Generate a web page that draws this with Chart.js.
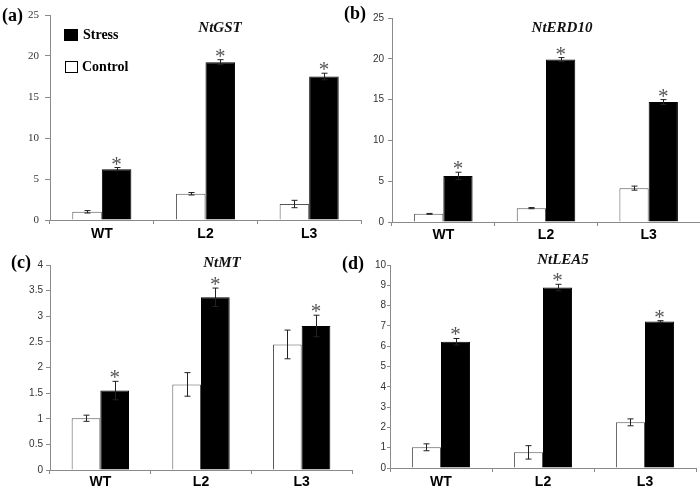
<!DOCTYPE html>
<html lang="en">
<head>
  <meta charset="UTF-8" />
  <title>Stress gene expression</title>
  <script src="https://cdn.jsdelivr.net/npm/chart.js"></script>
  <style>
    body { margin: 0; background: #fff; }
    #wrap { position: relative; width: 700px; height: 489px; overflow: hidden; }
    canvas { position: absolute; }
    .lbl { position: absolute; font-family: "Liberation Serif", serif; font-weight: bold; line-height: 1; white-space: nowrap; color: #000; }
    .panel { font-size: 18px; transform: translateY(-50%); }
    .gene { font-size: 15px; font-style: italic; transform: translate(-50%, -50%); color: #111; }
    .leg { font-size: 14px; }
    .box { position: absolute; box-sizing: border-box; border: 1px solid #000; }
  </style>
</head>
<body>
  <div id="wrap">
    <canvas id="chartA" width="362" height="245" style="left:0;top:0"></canvas>
    <canvas id="chartB" width="350" height="245" style="left:350px;top:0"></canvas>
    <canvas id="chartC" width="353" height="244" style="left:0;top:245px"></canvas>
    <canvas id="chartD" width="350" height="244" style="left:350px;top:245px"></canvas>

    <div class="lbl panel" style="left:2px;top:15px">(a)</div>
    <div class="lbl panel" style="left:344px;top:13px">(b)</div>
    <div class="lbl panel" style="left:11px;top:262px">(c)</div>
    <div class="lbl panel" style="left:342px;top:263px">(d)</div>

    <div class="lbl gene" style="left:220px;top:27px">NtGST</div>
    <div class="lbl gene" style="left:562px;top:27px">NtERD10</div>
    <div class="lbl gene" style="left:222px;top:262px">NtMT</div>
    <div class="lbl gene" style="left:563px;top:259px">NtLEA5</div>

    <div class="box" style="left:64px;top:29px;width:14px;height:12px;background:#000"></div>
    <div class="lbl leg" style="left:83px;top:28px">Stress</div>
    <div class="box" style="left:65px;top:61px;width:13px;height:12px;background:#fff"></div>
    <div class="lbl leg" style="left:82px;top:60px">Control</div>
  </div>

  <script>
    const groups = ['WT', 'L2', 'L3'];

    // (a) NtGST
    const gstControl = [1.0, 3.2, 1.95];
    const gstControlErr = [0.15, 0.15, 0.45];
    const gstStress = [6.2, 19.25, 17.5];
    const gstStressErr = [0.2, 0.3, 0.4];

    // (b) NtERD10
    const erdControl = [1.0, 1.7, 4.15];
    const erdControlErr = [0.05, 0.07, 0.25];
    const erdStress = [5.65, 19.9, 14.7];
    const erdStressErr = [0.45, 0.25, 0.3];

    // (c) NtMT
    const mtControl = [1.01, 1.67, 2.45];
    const mtControlErr = [0.06, 0.23, 0.28];
    const mtStress = [1.55, 3.37, 2.81];
    const mtStressErr = [0.18, 0.18, 0.21];

    // (d) NtLEA5
    const leaControl = [1.02, 0.77, 2.25];
    const leaControlErr = [0.17, 0.33, 0.17];
    const leaStress = [6.22, 8.89, 7.22];
    const leaStressErr = [0.16, 0.16, 0.04];

    // y axis ranges per panel
    const yMaxA = 25, yStepA = 5;
    const yMaxB = 25, yStepB = 5;
    const yMaxC = 4, yStepC = 0.5;
    const yMaxD = 10, yStepD = 1;

    const axisGray = '#8a8a8a';

    // draws error bars and the significance stars from the y scale
    const errorBars = {
      id: 'errorBars',
      afterDatasetsDraw(chart) {
        const ctx = chart.ctx;
        const y = chart.scales.y;
        chart.data.datasets.forEach((ds, i) => {
          const meta = chart.getDatasetMeta(i);
          meta.data.forEach((bar, j) => {
            const v = ds.data[j], e = ds.errors[j];
            const top = y.getPixelForValue(v + e);
            const bot = y.getPixelForValue(v - e);
            const x = Math.round(bar.x) + 0.5;
            ctx.save();
            ctx.strokeStyle = '#222';
            ctx.lineWidth = 1;
            ctx.beginPath();
            ctx.moveTo(x, top); ctx.lineTo(x, bot);
            ctx.moveTo(x - 3, top); ctx.lineTo(x + 3, top);
            ctx.moveTo(x - 3, bot); ctx.lineTo(x + 3, bot);
            ctx.stroke();
            if (ds.stars) {
              ctx.fillStyle = '#555';
              ctx.font = '21px "Liberation Serif"';
              ctx.textAlign = 'center';
              ctx.textBaseline = 'alphabetic';
              ctx.fillText('*', bar.x, top + 3);
            }
            ctx.restore();
          });
        });
      }
    };

    function makePanel(id, control, controlErr, stress, stressErr, o) {
      return new Chart(document.getElementById(id), {
        type: 'bar',
        data: {
          labels: groups,
          datasets: [
            {
              label: 'Control', data: control, errors: controlErr,
              backgroundColor: '#fff', borderColor: '#555', borderWidth: 1,
              categoryPercentage: 0.57, barPercentage: 1.0
            },
            {
              label: 'Stress', data: stress, errors: stressErr, stars: true,
              backgroundColor: '#000', borderColor: '#000', borderWidth: 1,
              categoryPercentage: 0.57, barPercentage: 1.0
            }
          ]
        },
        options: {
          responsive: false,
          animation: false,
          layout: { padding: { left: 0, top: o.padTop, right: o.padRight, bottom: 0 } },
          plugins: { legend: { display: false }, tooltip: { enabled: false } },
          scales: {
            x: {
              offset: true,
              grid: { offset: true, drawOnChartArea: false, tickLength: 4, color: axisGray },
              border: { color: axisGray },
              ticks: { color: '#000', padding: o.xPad, font: { family: 'Liberation Sans', weight: 'bold', size: 14 } },
              afterFit: s => { s.height = o.xH; }
            },
            y: {
              min: 0, max: o.max,
              grid: { drawOnChartArea: false, tickLength: o.tickLen, color: axisGray },
              border: { color: axisGray },
              ticks: { stepSize: o.step, color: '#333', padding: o.yPad, font: o.yFont, callback: v => String(v) },
              afterFit: s => { s.width = o.yW; }
            }
          }
        },
        plugins: [errorBars]
      });
    }

    const sansTicks = { family: 'Liberation Sans', size: 10 };

    makePanel('chartA', gstControl, gstControlErr, gstStress, gstStressErr,
      { max: yMaxA, step: yStepA, yW: 50, padTop: 15, padRight: 1, xH: 25, xPad: 2, tickLen: 5, yPad: 6,
        yFont: { family: 'Liberation Serif', size: 11 } });
    makePanel('chartB', erdControl, erdControlErr, erdStress, erdStressErr,
      { max: yMaxB, step: yStepB, yW: 42, padTop: 18, padRight: 0, xH: 23, xPad: 1, tickLen: 4, yPad: 4, yFont: sansTicks });
    makePanel('chartC', mtControl, mtControlErr, mtStress, mtStressErr,
      { max: yMaxC, step: yStepC, yW: 50, padTop: 20, padRight: 1, xH: 19, xPad: 0, tickLen: 4, yPad: 3, yFont: sansTicks });
    makePanel('chartD', leaControl, leaControlErr, leaStress, leaStressErr,
      { max: yMaxD, step: yStepD, yW: 40, padTop: 20, padRight: 4, xH: 21, xPad: 2, tickLen: 3, yPad: 1, yFont: sansTicks });
  </script>
</body>
</html>
